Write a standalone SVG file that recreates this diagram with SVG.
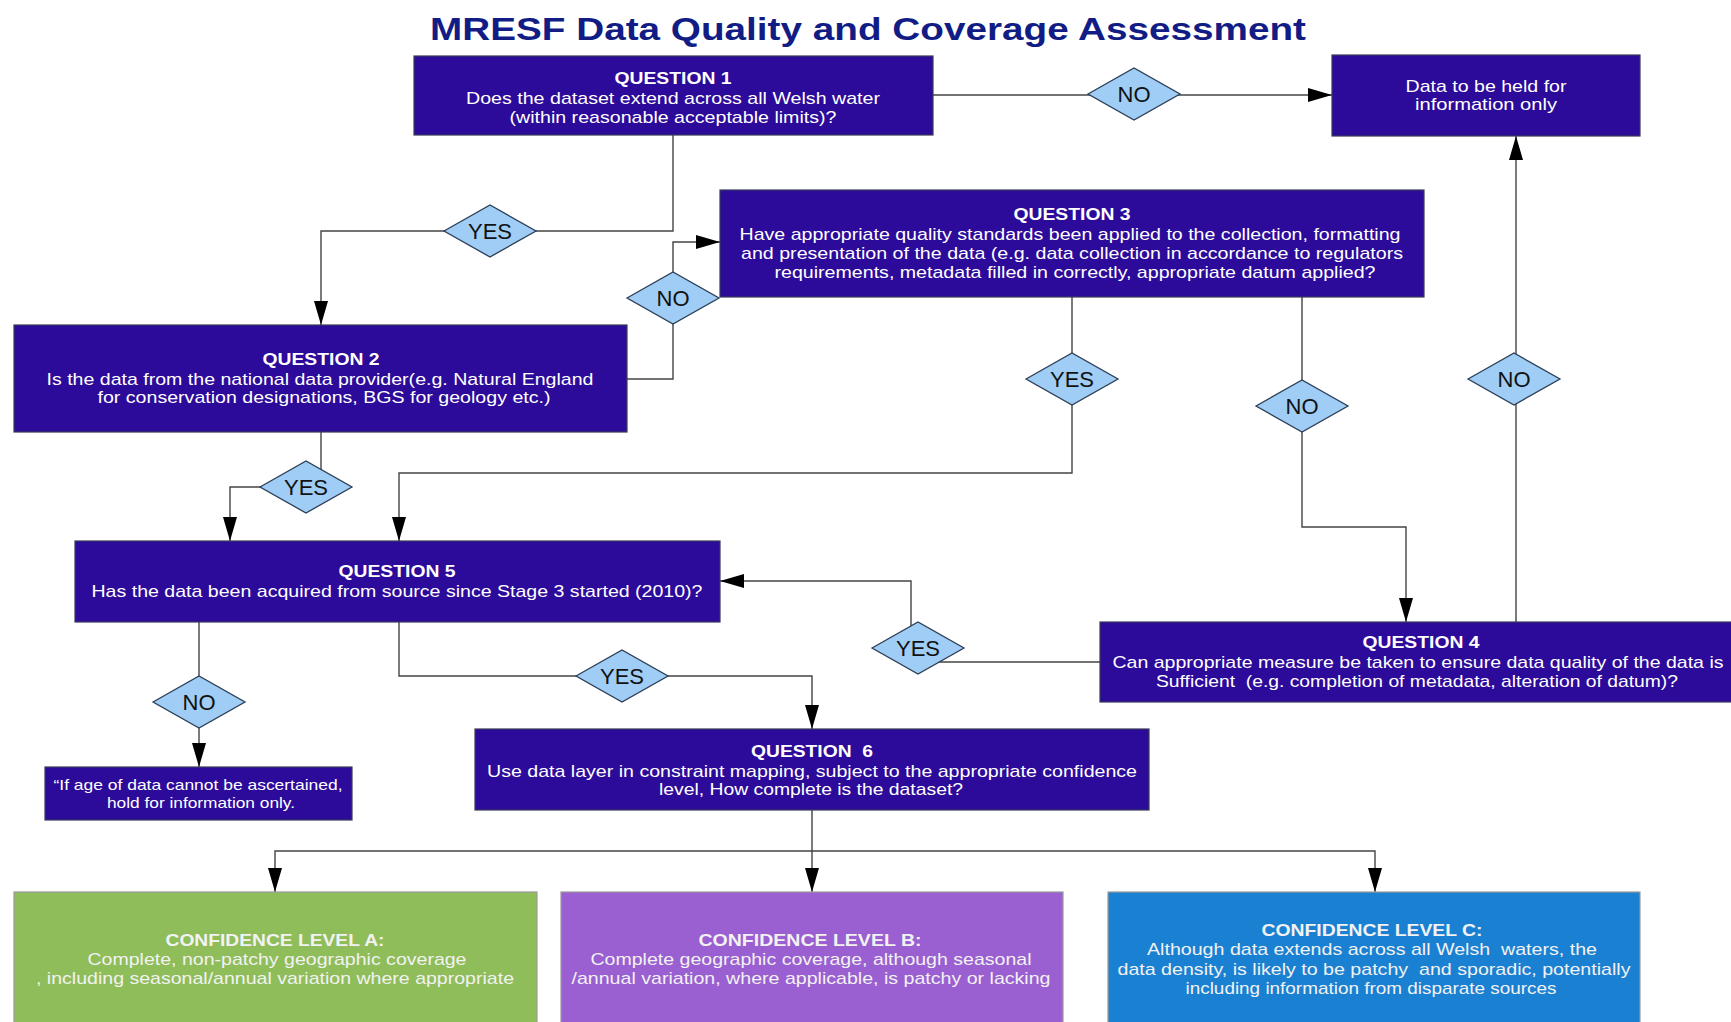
<svg xmlns="http://www.w3.org/2000/svg" width="1731" height="1022" viewBox="0 0 1731 1022">
<defs>
<marker id="ah" markerUnits="userSpaceOnUse" markerWidth="24" markerHeight="14" refX="24" refY="7" orient="auto"><path d="M0,0 L24,7 L0,14 Z" fill="#000"/></marker>
<path id="dia" d="M-46,0 L0,-26 L46,0 L0,26 Z"/>
</defs>
<style>
text{font-family:"Liberation Sans",Arial,sans-serif;text-anchor:middle;}
.title{font-size:32px;font-weight:bold;fill:#111c85;}
.box{fill:#2c0a9a;stroke:#3a3a5a;stroke-width:1.2;}
.h{font-size:17px;font-weight:bold;fill:#fff;}
.b{font-size:17px;fill:#fff;}
.n{font-size:15px;fill:#fff;}
.c{fill:none;stroke:#444;stroke-width:1.4;}
.ca{marker-end:url(#ah);}
.d{fill:#9fcdf5;stroke:#2b3d55;stroke-width:1.3;}
.dl{font-size:22px;fill:#111;}
.cf{stroke:#999;stroke-width:1.2;}
.ct{font-size:17px;font-weight:bold;fill:#f2f2f2;}
.cb{font-size:17px;fill:#f2f2f2;}
</style>
<rect width="1731" height="1022" fill="#fff"/>
<text class="title" x="868" y="40" textLength="876" lengthAdjust="spacingAndGlyphs">MRESF Data Quality and Coverage Assessment</text>

<g id="connectors">
<path class="c ca" d="M933,95 H1332"/>
<path class="c ca" d="M673,135 V231 H321 V325"/>
<path class="c ca" d="M627,379 H673 V242 H720"/>
<path class="c ca" d="M1072,297 V473 H399 V541"/>
<path class="c ca" d="M1302,297 V527 H1406 V622"/>
<path class="c ca" d="M1516,622 V136"/>
<path class="c ca" d="M321,432 V487 H230 V541"/>
<path class="c ca" d="M1100,662 H911 V581 H720"/>
<path class="c ca" d="M199,622 V767"/>
<path class="c ca" d="M399,622 V676 H812 V729"/>
<path class="c ca" d="M812,810 V892"/>
<path class="c ca" d="M812,851 H275 V892"/>
<path class="c ca" d="M812,851 H1375 V892"/>
</g>

<g id="q1">
<rect class="box" x="414" y="56" width="519" height="79"/>
<text class="h" x="673" y="84" textLength="117" lengthAdjust="spacingAndGlyphs">QUESTION 1</text>
<text class="b" x="673" y="104" textLength="414" lengthAdjust="spacingAndGlyphs">Does the dataset extend across all Welsh water</text>
<text class="b" x="673" y="123" textLength="327" lengthAdjust="spacingAndGlyphs">(within reasonable acceptable limits)?</text>
</g>

<g id="held">
<rect class="box" x="1332" y="55" width="308" height="81"/>
<text class="b" x="1486" y="92" textLength="161" lengthAdjust="spacingAndGlyphs">Data to be held for</text>
<text class="b" x="1486" y="110" textLength="142" lengthAdjust="spacingAndGlyphs">information only</text>
</g>

<g id="q3">
<rect class="box" x="720" y="190" width="704" height="107"/>
<text class="h" x="1072" y="220" textLength="117" lengthAdjust="spacingAndGlyphs">QUESTION 3</text>
<text class="b" x="1070" y="240" textLength="661" lengthAdjust="spacingAndGlyphs">Have appropriate quality standards been applied to the collection, formatting</text>
<text class="b" x="1072" y="259" textLength="662" lengthAdjust="spacingAndGlyphs">and presentation of the data (e.g. data collection in accordance to regulators</text>
<text class="b" x="1075" y="278" textLength="601" lengthAdjust="spacingAndGlyphs">requirements, metadata filled in correctly, appropriate datum applied?</text>
</g>

<g id="q2">
<rect class="box" x="14" y="325" width="613" height="107"/>
<text class="h" x="321" y="365" textLength="117" lengthAdjust="spacingAndGlyphs">QUESTION 2</text>
<text class="b" x="320" y="385" textLength="547" lengthAdjust="spacingAndGlyphs">Is the data from the national data provider(e.g. Natural England</text>
<text class="b" x="324" y="403" textLength="453" lengthAdjust="spacingAndGlyphs">for conservation designations, BGS for geology etc.)</text>
</g>

<g id="q5">
<rect class="box" x="75" y="541" width="645" height="81"/>
<text class="h" x="397" y="577" textLength="117" lengthAdjust="spacingAndGlyphs">QUESTION 5</text>
<text class="b" x="397" y="597" textLength="611" lengthAdjust="spacingAndGlyphs">Has the data been acquired from source since Stage 3 started (2010)?</text>
</g>

<g id="q4">
<rect class="box" x="1100" y="622" width="640" height="80"/>
<text class="h" x="1421" y="648" textLength="117" lengthAdjust="spacingAndGlyphs">QUESTION 4</text>
<text class="b" x="1418" y="668" textLength="611" lengthAdjust="spacingAndGlyphs">Can appropriate measure be taken to ensure data quality of the data is</text>
<text class="b" x="1417" y="687" textLength="522" lengthAdjust="spacingAndGlyphs" xml:space="preserve">Sufficient  (e.g. completion of metadata, alteration of datum)?</text>
</g>

<g id="q6">
<rect class="box" x="475" y="729" width="674" height="81"/>
<text class="h" x="812" y="757" textLength="122" lengthAdjust="spacingAndGlyphs" xml:space="preserve">QUESTION  6</text>
<text class="b" x="812" y="777" textLength="650" lengthAdjust="spacingAndGlyphs">Use data layer in constraint mapping, subject to the appropriate confidence</text>
<text class="b" x="811" y="795" textLength="304" lengthAdjust="spacingAndGlyphs">level, How complete is the dataset?</text>
</g>

<g id="note">
<rect class="box" x="45" y="767" width="307" height="53"/>
<text class="n" x="198" y="790" textLength="289" lengthAdjust="spacingAndGlyphs">“If age of data cannot be ascertained,</text>
<text class="n" x="201" y="808" textLength="188" lengthAdjust="spacingAndGlyphs">hold for information only.</text>
</g>

<g id="confA">
<rect class="cf" x="14" y="892" width="523" height="140" fill="#8fbd59"/>
<text class="ct" x="275" y="946" textLength="219" lengthAdjust="spacingAndGlyphs">CONFIDENCE LEVEL A:</text>
<text class="cb" x="277" y="965" textLength="379" lengthAdjust="spacingAndGlyphs">Complete, non-patchy geographic coverage</text>
<text class="cb" x="275" y="984" textLength="478" lengthAdjust="spacingAndGlyphs">, including seasonal/annual variation where appropriate</text>
</g>

<g id="confB">
<rect class="cf" x="561" y="892" width="502" height="140" fill="#9a5fd1"/>
<text class="ct" x="810" y="946" textLength="223" lengthAdjust="spacingAndGlyphs">CONFIDENCE LEVEL B:</text>
<text class="cb" x="811" y="965" textLength="441" lengthAdjust="spacingAndGlyphs">Complete geographic coverage, although seasonal</text>
<text class="cb" x="811" y="984" textLength="479" lengthAdjust="spacingAndGlyphs">/annual variation, where applicable, is patchy or lacking</text>
</g>

<g id="confC">
<rect class="cf" x="1108" y="892" width="532" height="140" fill="#1a80d2"/>
<text class="ct" x="1372" y="936" textLength="221" lengthAdjust="spacingAndGlyphs">CONFIDENCE LEVEL C:</text>
<text class="cb" x="1372" y="955" textLength="450" lengthAdjust="spacingAndGlyphs" xml:space="preserve">Although data extends across all Welsh  waters, the</text>
<text class="cb" x="1374" y="975" textLength="513" lengthAdjust="spacingAndGlyphs" xml:space="preserve">data density, is likely to be patchy  and sporadic, potentially</text>
<text class="cb" x="1371" y="994" textLength="371" lengthAdjust="spacingAndGlyphs">including information from disparate sources</text>
</g>

<g id="labels">
<use href="#dia" class="d" x="1134" y="94"/><text class="dl" x="1134" y="102">NO</text>
<use href="#dia" class="d" x="490" y="231"/><text class="dl" x="490" y="239">YES</text>
<use href="#dia" class="d" x="673" y="298"/><text class="dl" x="673" y="306">NO</text>
<use href="#dia" class="d" x="1072" y="379"/><text class="dl" x="1072" y="387">YES</text>
<use href="#dia" class="d" x="1302" y="406"/><text class="dl" x="1302" y="414">NO</text>
<use href="#dia" class="d" x="1514" y="379"/><text class="dl" x="1514" y="387">NO</text>
<use href="#dia" class="d" x="306" y="487"/><text class="dl" x="306" y="495">YES</text>
<use href="#dia" class="d" x="918" y="648"/><text class="dl" x="918" y="656">YES</text>
<use href="#dia" class="d" x="199" y="702"/><text class="dl" x="199" y="710">NO</text>
<use href="#dia" class="d" x="622" y="676"/><text class="dl" x="622" y="684">YES</text>
</g>
</svg>
